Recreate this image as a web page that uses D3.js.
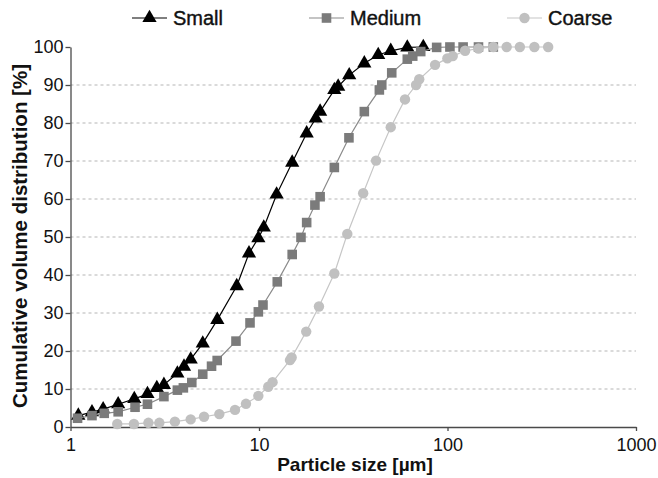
<!DOCTYPE html>
<html>
<head>
<meta charset="utf-8">
<script src="https://cdn.jsdelivr.net/npm/d3@7"></script>
<style>
  body { margin: 0; background: #fff; }
  svg { font-family: "Liberation Sans", Arial, sans-serif; }
</style>
</head>
<body>
<div id="chart"></div>
<script>
// particle size [um] and cumulative volume [%]
var smallSize = [1.10, 1.30, 1.49, 1.79, 2.18, 2.56, 2.87, 3.13, 3.69, 4.0, 4.34, 5.03, 6.01, 7.62,
                 8.85, 9.92, 10.6, 12.4, 15.0, 17.9, 20.0, 21.1, 25.1, 26.3, 30.1, 36.2, 42.9, 50.0, 61.2, 74.4];
var smallPct = [3.0, 3.9, 4.7, 6.0, 7.4, 8.7, 10.3, 11.1, 14.1, 15.9, 17.8, 22.0, 28.2, 37.1,
                45.7, 49.7, 52.5, 61.2, 69.6, 77.3, 81.2, 83.0, 88.7, 89.6, 92.6, 95.7, 97.9, 99.0, 99.9, 100];

var mediumSize = [1.09, 1.30, 1.51, 1.79, 2.20, 2.56, 3.13, 3.69, 3.97, 4.40, 5.03, 5.6, 6.0, 7.55,
                  8.96, 9.92, 10.5, 12.5, 15.0, 16.7, 17.9, 19.8, 21.1, 25.1, 30.0, 36.2, 43.5, 44.8,
                  50.6, 61.2, 65.4, 72.1, 87.6, 103, 121, 146, 175];
var mediumPct = [2.3, 3.0, 3.6, 4.0, 5.2, 6.0, 8.0, 9.7, 10.3, 11.7, 13.9, 16.0, 17.5, 22.6,
                 27.4, 30.3, 32.1, 38.2, 45.4, 49.9, 53.8, 58.4, 60.6, 68.3, 76.1, 83.0, 88.7, 90.0,
                 93.2, 96.8, 97.6, 98.8, 99.9, 100, 100, 100, 100];

var coarseSize = [1.77, 2.17, 2.59, 2.96, 3.58, 4.34, 5.11, 6.16, 7.46, 8.53, 9.92, 11.2, 11.8, 14.6,
                  14.9, 17.8, 20.8, 25.1, 29.4, 35.7, 41.8, 50.0, 59.5, 68.1, 70.8, 85.9, 99.8, 106.6,
                  124, 146, 175, 206, 242, 289, 342];
var coarsePct = [0.8, 0.8, 1.1, 1.1, 1.4, 2.0, 2.7, 3.4, 4.5, 6.1, 8.2, 10.6, 11.8, 17.6,
                 18.3, 25.1, 31.7, 40.4, 50.8, 61.5, 70.1, 78.9, 86.2, 90.0, 91.5, 95.3, 97.0, 97.6,
                 99.0, 99.6, 100, 100, 100, 100, 100];

var seriesNames = ["Small", "Medium", "Coarse"];
var xTicks = [1, 10, 100, 1000];
var yTicks = [0, 10, 20, 30, 40, 50, 60, 70, 80, 90, 100];

var w = 658;
var h = 478;

var svg = d3.select("#chart")
            .append("svg")
            .attr("width", w)
            .attr("height", h);

var x = d3.scaleLog().domain([1, 1000]).range([70.5, 636]);
var y = d3.scaleLinear().domain([0, 100]).range([427, 47]);

var series = [
    { name: seriesNames[0], size: smallSize, pct: smallPct, line: "#000", fill: "#000", shape: d3.symbolTriangle, area: 88 },
    { name: seriesNames[1], size: mediumSize, pct: mediumPct, line: "#8a8a8a", fill: "#7b7b7b", shape: d3.symbolSquare, area: 92 },
    { name: seriesNames[2], size: coarseSize, pct: coarsePct, line: "#c6c6c6", fill: "#c0c0c0", shape: d3.symbolCircle, area: 85 }
];

// dashed grid lines
svg.selectAll("line.grid")
    .data(yTicks.filter(function(d) { return d > 0 && d < 100; }))
    .enter()
    .append("line")
    .attr("class", "grid")
    .attr("x1", x(1))
    .attr("x2", x(1000))
    .attr("y1", function(d) { return y(d); })
    .attr("y2", function(d) { return y(d); })
    .attr("stroke", "#b5b5b5")
    .attr("stroke-width", 1)
    .attr("stroke-dasharray", "3,3");

// axes
var yAxis = svg.append("g")
    .attr("transform", "translate(" + x(1) + ",0)")
    .call(d3.axisLeft(y).tickValues(yTicks).tickSize(5).tickSizeOuter(0).tickPadding(2));

var xAxis = svg.append("g")
    .attr("transform", "translate(0," + y(0) + ")")
    .call(d3.axisBottom(x).tickValues(xTicks).tickSize(4).tickSizeOuter(0).tickPadding(7)
          .tickFormat(function(d) { return d; }));

[xAxis, yAxis].forEach(function(a) {
    a.selectAll("path, line").attr("stroke", "#4a4a4a").attr("stroke-width", 1.3);
    a.selectAll("text").attr("fill", "#111").style("font-size", "18px")
        .style("font-family", "'Liberation Sans', Arial, sans-serif");
});

// lines and markers
var line = d3.line()
    .x(function(d) { return x(d[0]); })
    .y(function(d) { return y(d[1]); });

series.forEach(function(s) {
    var pts = s.size.map(function(v, i) { return [v, s.pct[i]]; });
    svg.append("path")
        .datum(pts)
        .attr("d", line)
        .attr("fill", "none")
        .attr("stroke", s.line)
        .attr("stroke-width", 1.2);

    svg.append("g")
        .selectAll("path")
        .data(pts)
        .enter()
        .append("path")
        .attr("d", d3.symbol().type(s.shape).size(s.area))
        .attr("transform", function(d) { return "translate(" + x(d[0]) + "," + y(d[1]) + ")"; })
        .attr("fill", s.fill);
});

// legend
var legendX = [132, 309, 507];
series.forEach(function(s, i) {
    var g = svg.append("g").attr("transform", "translate(" + legendX[i] + ",18)");
    g.append("line")
        .attr("x1", 0).attr("x2", 35)
        .attr("y1", 0).attr("y2", 0)
        .attr("stroke", s.line)
        .attr("stroke-width", 1.2);
    g.append("path")
        .attr("d", d3.symbol().type(s.shape).size(s.area))
        .attr("transform", "translate(17.5,0)")
        .attr("fill", s.fill);
    g.append("text")
        .attr("x", 41)
        .attr("y", 7)
        .attr("fill", "#111")
        .attr("stroke", "#111")
        .attr("stroke-width", 0.4)
        .style("font-size", "20px")
        .text(s.name);
});

// axis titles
svg.append("text")
    .attr("x", 355)
    .attr("y", 471)
    .attr("text-anchor", "middle")
    .attr("fill", "#111")
    .style("font-size", "19px")
    .style("font-weight", "bold")
    .text("Particle size [µm]");

svg.append("text")
    .attr("transform", "translate(27,236) rotate(-90)")
    .attr("text-anchor", "middle")
    .attr("fill", "#111")
    .style("font-size", "20.5px")
    .style("font-weight", "bold")
    .text("Cumulative volume distribution [%]");
</script>
</body>
</html>
